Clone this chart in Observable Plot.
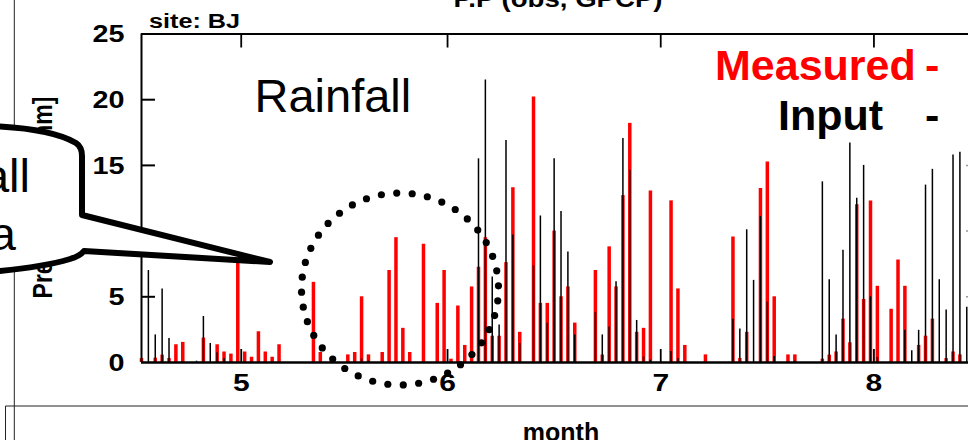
<!DOCTYPE html>
<html>
<head>
<meta charset="utf-8">
<script src="https://cdn.jsdelivr.net/npm/d3@7"></script>
<script src="https://cdn.jsdelivr.net/npm/@observablehq/plot@0.6"></script>
<style>
  html, body { margin: 0; padding: 0; background: #fff; overflow: hidden; }
  svg { display: block; }
</style>
</head>
<body>
<div id="chart"></div>
<script>
// ---- data (day of year, precipitation in mm) ----
const measuredDays = [106,108,109,110,111,112,115,117,118,119,120,121,122,123,124,125,126,131,132,136,137,138,139,141,142,143,144,145,147,149,150,151,152,153,154,155,156,157,158,159,160,161,163,164,165,166,167,168,169,172,173,174,175,176,177,178,179,180,183,184,185,188,192,193,194,196,197,198,200,201,205,206,207,208,209,210,211,212,213,215,216,217,219,220,221,223,224,225];
const measuredValues = [0.3,0.33,0.56,0.3,1.35,1.53,1.86,1.35,0.8,0.64,8.0,0.8,0.4,2.34,0.8,0.4,1.35,6.1,0.76,0.58,0.76,5.0,0.58,0.76,7.0,9.5,2.6,0.76,9.0,4.5,7.0,0.25,4.3,1.3,5.75,7.25,9.5,2.0,2.0,7.6,13.3,2.3,20.2,4.5,4.5,10.0,5.0,5.75,3.0,7.0,0.57,8.8,5.75,12.7,18.2,2.3,2.6,13.05,12.3,5.6,1.3,0.58,9.55,0.3,2.3,13.25,15.25,5.0,0.58,0.58,0.25,0.56,0.8,3.3,1.5,12.0,4.8,12.3,5.8,4.05,7.8,5.8,1.3,2.0,3.3,0.3,0.8,0.58];

const inputDays = [107,108,109,110,114,115,116,117,118,138,139,155,156,157,158,159,160,161,163,164,165,166,167,168,169,172,173,174,175,176,177,178,179,180,183,184,192,193,194,195,196,197,198,201,205,206,207,208,209,210,211,212,213,217,218,219,220,221,222,223,224,225,226];
const inputValues = [7.0,2.1,5.6,1.83,0.1,3.5,1.45,0.74,0.3,0.28,0.1,15.5,21.5,6.5,2.85,16.9,9.7,1.45,7.35,11.15,3.0,15.5,11.5,8.4,2.1,3.8,2.1,2.7,6.15,17.05,14.65,3.2,0.43,0.18,0.84,0.3,3.3,2.55,10.1,6.25,11.1,4.6,0.45,0.1,13.75,6.3,2.1,8.55,16.7,12.5,15.0,5.0,0.38,2.45,0.9,2.45,13.5,14.7,6.3,4.0,15.8,16.0,4.2];

const monthTickDays = [120.5, 150.5, 181.5, 212.5];
const monthTickLabels = ["5", "6", "7", "8"];
const yTickValues = [0, 5, 10, 15, 20, 25];
const xDomain = [106.0, 226.25];
const yDomain = [0, 25];

const measured = measuredDays.map((d, i) => ({day: d, value: measuredValues[i]}));
const input = inputDays.map((d, i) => ({day: d, value: inputValues[i]}));

const W = 968, H = 440, mL = 141, mR = 0, mT = 33.5, mB = 78;
const innerW = W - mL - mR;
const innerH = H - mT - mB;
const FONT = "'Liberation Sans', Arial, Helvetica, sans-serif";

const plot = Plot.plot({
  width: W, height: H,
  marginLeft: mL, marginRight: mR, marginTop: mT, marginBottom: mB,
  x: {domain: xDomain, axis: null},
  y: {domain: yDomain, axis: null},
  style: {fontFamily: FONT, background: "white", color: "black", overflow: "visible"},
  marks: [
    Plot.ruleX(measured, {x: "day", y1: 0, y2: "value", stroke: "#ff0000", strokeWidth: 3.5}),
    Plot.ruleX(input, {x: "day", y1: 0, y2: "value", stroke: "#000", strokeWidth: 1.5}),
    Plot.ruleY([0], {stroke: "#000", strokeWidth: 2.5}),
    Plot.ruleY([25], {stroke: "#000", strokeWidth: 2}),
    Plot.ruleX([xDomain[0]], {stroke: "#000", strokeWidth: 2}),
    Plot.tickY(yTickValues.filter(v => v > 0 && v < 25), {y: d => d, stroke: "#000", strokeWidth: 2, insetRight: innerW - 14}),
    Plot.tickY([5, 10, 15], {y: d => d, stroke: "#999", strokeWidth: 1.5, insetLeft: innerW - 2}),
    Plot.tickX(monthTickDays, {x: d => d, stroke: "#000", strokeWidth: 1.8, insetBottom: innerH - 14}),
    Plot.tickX(monthTickDays, {x: d => d, stroke: "#000", strokeWidth: 1.8, insetTop: innerH - 13}),
    Plot.text(yTickValues, {frameAnchor: "left", y: d => d, text: d => String(d), textAnchor: "end", dx: -17, dy: 1, fontSize: 23, fontWeight: "bold", fill: "#000"}),
    Plot.text(monthTickDays, {x: d => d, frameAnchor: "bottom", text: (d, i) => monthTickLabels[i], dy: 28, fontSize: 24, fontWeight: "bold", fill: "#000"})
  ]
});
document.getElementById("chart").appendChild(plot);

// horizontally widen the numeric tick labels (the chart image is stretched)
d3.select(plot).selectAll("text").each(function () {
  if (!/^\d+$/.test(this.textContent)) return;
  const tr = this.getAttribute("transform");
  if (tr) {
    this.setAttribute("transform", tr + " scale(1.25,1)");
  } else {
    const x = +this.getAttribute("x") || 0;
    this.setAttribute("transform", `translate(${x},0) scale(1.25,1) translate(${-x},0)`);
  }
});

// ---- annotations ----
const svg = d3.select(plot);
const deco = svg.append("g").attr("text-anchor", "start").attr("font-family", FONT);

function addText(opts) {
  const t = deco.append("text")
    .attr("text-anchor", opts.anchor || "start")
    .attr("font-size", opts.size)
    .attr("font-weight", opts.weight || "normal")
    .attr("font-family", FONT)
    .attr("fill", opts.fill || "#000")
    .text(opts.text);
  if (opts.transform) t.attr("transform", opts.transform);
  else t.attr("x", opts.x).attr("y", opts.y);
  return t;
}

// slide frame lines
deco.append("line").attr("x1", 14.3).attr("x2", 14.3).attr("y1", 0).attr("y2", 440).attr("stroke", "#222").attr("stroke-width", 1);
deco.append("line").attr("x1", 5.5).attr("x2", 968).attr("y1", 406).attr("y2", 406).attr("stroke", "#222").attr("stroke-width", 1.2);
deco.append("line").attr("x1", 5.5).attr("x2", 5.5).attr("y1", 406).attr("y2", 440).attr("stroke", "#222").attr("stroke-width", 1);

// title (cut off at top)
addText({transform: "translate(558,6.5) scale(1.15,1)", anchor: "middle", size: 24, weight: "bold", text: "P.P (obs, GPCP)"});
// site label
addText({transform: "translate(149,28.3) scale(1.2,1)", size: 21, weight: "bold", text: "site: BJ"});
// y axis title
addText({transform: "translate(52,197.5) scale(1.2,1) rotate(-90)", anchor: "middle", size: 23, weight: "bold", text: "Precipitation [mm]"});
// x axis title
addText({x: 561, y: 440.5, anchor: "middle", size: 25, weight: "bold", text: "month"});
// "Rainfall" label inside plot
addText({x: 254.5, y: 112, size: 47, text: "Rainfall"});
// legend
addText({x: 715, y: 80, size: 43, weight: "bold", fill: "#ff0000", text: "Measured"});
addText({x: 925, y: 80, size: 43, weight: "bold", fill: "#ff0000", text: "-"});
addText({x: 778, y: 130, size: 43, weight: "bold", text: "Input"});
addText({x: 925, y: 130, size: 43, weight: "bold", text: "-"});

// speech bubble
deco.append("path")
  .attr("d", "M -12 126 Q 50 128 76 143 Q 82 147 82 156 L 82 215 L 270 262 L 84 251 Q 80 256 70 259 Q 40 268 -12 272 Z")
  .attr("fill", "#fff").attr("stroke", "#000").attr("stroke-width", 6).attr("stroke-linejoin", "round");
addText({x: 30, y: 192, anchor: "end", size: 47, text: "Rainfall"});
addText({x: 16, y: 250, anchor: "end", size: 47, text: "data"});

// dotted ellipse highlighting the period
const cx = 400, cy = 289, rx = 98.5, ry = 96, nDots = 40;
const dots = d3.range(nDots).map(k => {
  const a = (-91.9 + k * 360 / nDots) * Math.PI / 180;
  return [cx + rx * Math.cos(a), cy + ry * Math.sin(a)];
});
deco.append("g").selectAll("circle").data(dots).join("circle")
  .attr("cx", d => d[0]).attr("cy", d => d[1]).attr("r", 3.6).attr("fill", "#000");
</script>
</body>
</html>
